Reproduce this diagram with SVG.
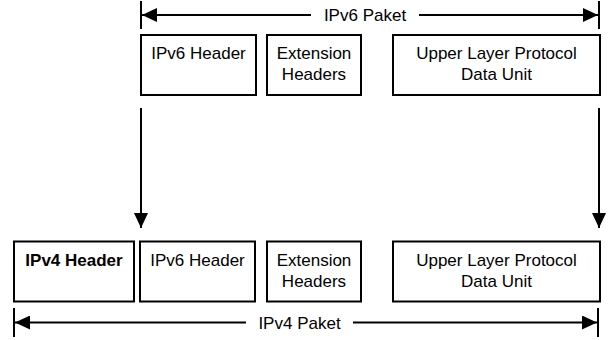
<svg xmlns="http://www.w3.org/2000/svg" width="611" height="340" viewBox="0 0 611 340">
<defs>
<style>
.box{fill:#fff;stroke:#000;stroke-width:2}
.t{font-family:"Liberation Sans",Arial,sans-serif;font-size:17px;fill:#000;text-anchor:middle}
.b{font-weight:bold}
.ln{stroke:#000;stroke-width:2;fill:none}
</style>
<marker id="ah" viewBox="0 0 15 14" refX="15" refY="7" markerWidth="15" markerHeight="14" markerUnits="userSpaceOnUse" orient="auto-start-reverse">
<path d="M0,0 L15,7 L0,14 Z" fill="#000"/>
</marker>
</defs>
<rect width="611" height="340" fill="#fff"/>
<g id="ipv6-paket-top">
<g id="t-ipv6-header"><rect class="box" x="141" y="35" width="115" height="60"/><text class="t" x="198.5" y="59">IPv6 Header</text></g>
<g id="t-extension"><rect class="box" x="267" y="35" width="94" height="60"/><text class="t" x="314" y="59">Extension</text><text class="t" x="314" y="80">Headers</text></g>
<g id="t-upper"><rect class="box" x="393" y="35" width="207" height="60"/><text class="t" x="496.5" y="59">Upper Layer Protocol</text><text class="t" x="496.5" y="80">Data Unit</text></g>
</g>
<g id="ipv4-paket-bottom">
<g id="b-ipv4-header"><rect class="box" x="14" y="241.5" width="120" height="60"/><text class="t b" x="74" y="265.5">IPv4 Header</text></g>
<g id="b-ipv6-header"><rect class="box" x="140" y="241.5" width="115" height="60"/><text class="t" x="197.5" y="265.5">IPv6 Header</text></g>
<g id="b-extension"><rect class="box" x="267" y="241.5" width="94" height="60"/><text class="t" x="314" y="265.5">Extension</text><text class="t" x="314" y="286.5">Headers</text></g>
<g id="b-upper"><rect class="box" x="393" y="241.5" width="207" height="60"/><text class="t" x="496.5" y="265.5">Upper Layer Protocol</text><text class="t" x="496.5" y="286.5">Data Unit</text></g>
</g>
<g id="connectors">
<line class="ln" x1="141" y1="1" x2="141" y2="29"/>
<line class="ln" x1="599" y1="1" x2="599" y2="29"/>
<line class="ln" x1="311" y1="15" x2="142" y2="15" marker-end="url(#ah)"/>
<line class="ln" x1="419" y1="15" x2="598" y2="15" marker-end="url(#ah)"/>
<text class="t" x="365" y="21">IPv6 Paket</text>
<line class="ln" x1="14" y1="308" x2="14" y2="337"/>
<line class="ln" x1="598" y1="308" x2="598" y2="337"/>
<line class="ln" x1="246" y1="322.5" x2="15" y2="322.5" marker-end="url(#ah)"/>
<line class="ln" x1="353" y1="322.5" x2="597" y2="322.5" marker-end="url(#ah)"/>
<text class="t" x="299.5" y="329">IPv4 Paket</text>
<line class="ln" x1="141" y1="108" x2="141" y2="228" marker-end="url(#ah)"/>
<line class="ln" x1="599" y1="108" x2="599" y2="228" marker-end="url(#ah)"/>
</g>
</svg>
